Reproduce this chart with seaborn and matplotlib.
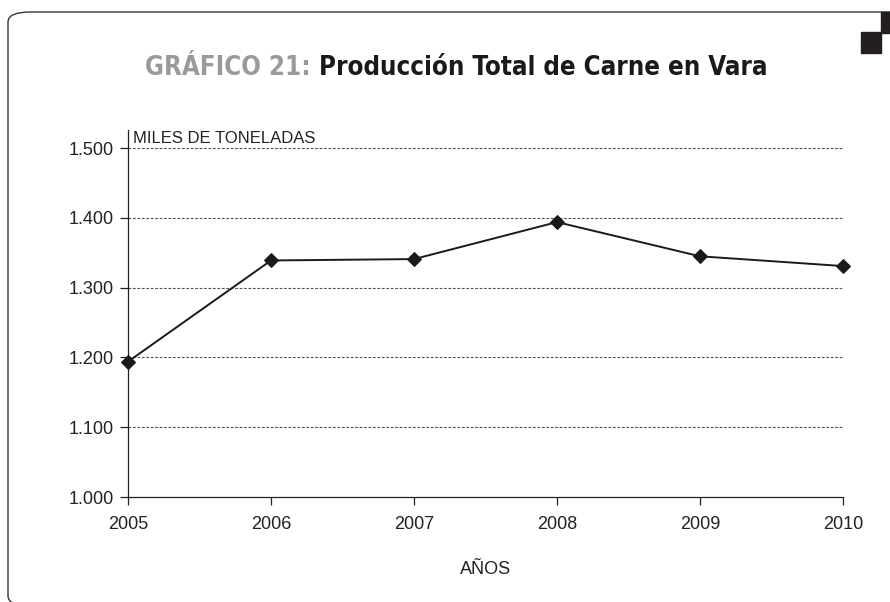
import matplotlib
matplotlib.use("Agg")
import matplotlib.pyplot as plt
import seaborn as sns
import pandas as pd
from matplotlib.patches import FancyBboxPatch, Rectangle

years = [2005, 2006, 2007, 2008, 2009, 2010]
production = [1194, 1339, 1341, 1394, 1345, 1331]
ytick_values = [1000, 1100, 1200, 1300, 1400, 1500]
ytick_labels = ["1.000", "1.100", "1.200", "1.300", "1.400", "1.500"]

df = pd.DataFrame({"year": years, "production": production})

sns.set_theme(style="white")
plt.rcParams["font.family"] = ["Liberation Sans", "DejaVu Sans"]

W, H = 890, 602
fig = plt.figure(figsize=(8.9, 6.02), dpi=100)

# frame (right and bottom sides run off the image)
frame = FancyBboxPatch((8/W, 1 - 606/H), 1.2, (606 - 12)/H,
                       boxstyle="round,pad=0,rounding_size=0.025",
                       transform=fig.transFigure, fill=False,
                       edgecolor="#333333", linewidth=1.0, mutation_aspect=H/W)
fig.patches.append(frame)
fig.patches.append(Rectangle((861/W, 1 - 53/H), 20/W, 21/H,
                             transform=fig.transFigure, color="#231f20"))
fig.patches.append(Rectangle((881/W, 1 - 33/H), 12/W, 21/H,
                             transform=fig.transFigure, color="#231f20"))

ax = fig.add_axes([128/W, 1 - 497/H, (843 - 128)/W, (497 - 130)/H])
sns.lineplot(data=df, x="year", y="production", ax=ax, color="#1a1a1a",
             marker="D", markersize=7, markeredgecolor="#1a1a1a", linewidth=1.4,
             clip_on=False, zorder=5)

ax.set_xlim(2005, 2010)
ax.set_ylim(1000, 1526)
ax.set_yticks(ytick_values)
ax.set_yticklabels(ytick_labels)
ax.set_xticks(years)
ax.set_xticklabels([str(y) for y in years])
for v in ytick_values[1:]:
    ax.axhline(v, color="#555555", linestyle=(0, (2.5, 1.5)), linewidth=0.8, zorder=0)

for s in ["top", "right"]:
    ax.spines[s].set_visible(False)
for s in ["left", "bottom"]:
    ax.spines[s].set_color("#222222")
    ax.spines[s].set_linewidth(0.9)
ax.tick_params(axis="both", which="major", direction="out", length=6, width=0.9,
               color="#222222", labelsize=13, labelcolor="#222222", left=True, bottom=True)
ax.tick_params(axis="y", pad=4)
ax.tick_params(axis="x", pad=8)
ax.set_xlabel("AÑOS", fontsize=13, color="#222222", labelpad=20)
ax.set_ylabel("")

fig.text(133/W, 1 - 138/H, "MILES DE TONELADAS", fontsize=12, color="#222222",
         va="center", ha="left")

# title
tkw = dict(fontsize=18.5, fontweight="bold", va="center", ha="left",
           family=["DejaVu Sans"], fontstretch="condensed")
t1 = fig.text(0.0, 1 - 68/H, "GRÁFICO 21: ", color="#9a9a9a", **tkw)
t2 = fig.text(0.0, 1 - 68/H, "Producción Total de Carne en Vara", color="#1a1a1a", **tkw)
fig.canvas.draw()
r = fig.canvas.get_renderer()
w1 = t1.get_window_extent(r).width
w2 = t2.get_window_extent(r).width
start = 456 - (w1 + w2) / 2
t1.set_x(start / W)
t2.set_x((start + w1) / W)

fig.savefig("out.png", dpi=100)
